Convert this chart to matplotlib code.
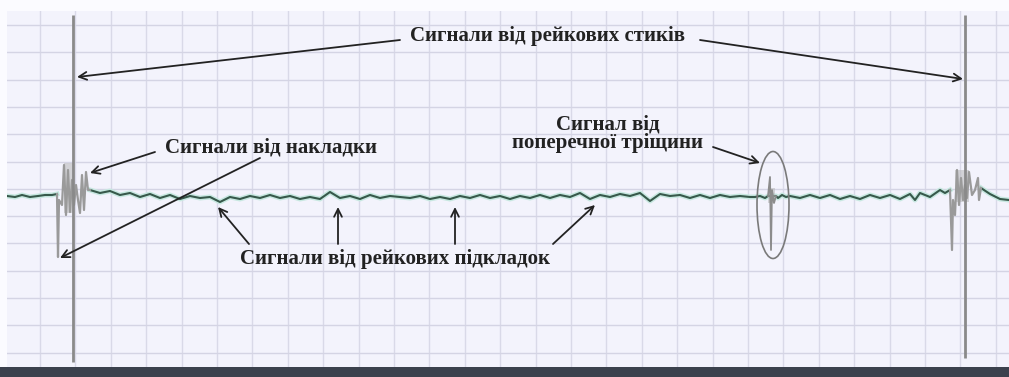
import matplotlib
matplotlib.use("Agg")
import matplotlib.pyplot as plt
from matplotlib.patches import Ellipse, Rectangle

# ---- data (x = position along track, y = signal level in image rows) ----
base_left_x = [7, 15, 22, 30, 38, 45, 52, 57]
base_left_y = [196, 197, 195, 197, 196, 195, 195, 194]

trans_left_x = [57, 58, 59, 62, 64, 66, 68, 70, 72, 74, 76, 78, 80, 82, 84, 86, 88, 90]
trans_left_y = [194, 257, 200, 205, 165, 215, 170, 212, 180, 205, 185, 200, 213, 175, 210, 172, 190, 190]

wave_x = [90, 100, 110, 120, 130, 140, 150, 160, 170, 180, 190, 200, 210, 220, 230, 240,
          250, 260, 270, 280, 290, 300, 310, 320, 330, 340, 350, 360, 370, 380, 390, 400,
          410, 420, 430, 440, 450, 460, 470, 480, 490, 500, 510, 520, 530, 540, 550, 560,
          570, 580, 590, 600, 610, 620, 630, 640, 650, 660, 670, 680, 690, 700, 710, 720,
          730, 740, 750, 755, 760, 765, 768, 776, 778, 782, 786, 790, 800, 810, 820, 830,
          840, 850, 860, 870, 880, 890, 900, 910, 915, 920, 930, 940, 945, 950]
wave_y = [190, 193, 191, 195, 193, 197, 194, 198, 195, 199, 196, 198, 197, 202, 197, 199,
          196, 198, 195, 198, 196, 199, 197, 199, 192, 198, 196, 199, 195, 198, 196, 197,
          198, 196, 199, 197, 199, 196, 198, 195, 198, 196, 199, 196, 198, 195, 198, 195,
          197, 193, 199, 195, 197, 194, 196, 193, 201, 194, 196, 195, 198, 195, 198, 195,
          197, 196, 197, 197, 196, 198, 196, 196, 198, 195, 197, 196, 198, 195, 198, 195,
          199, 196, 199, 195, 198, 195, 199, 194, 200, 193, 197, 190, 193, 190]

crack_x = [768, 770, 771, 772, 774, 776]
crack_y = [196, 177, 250, 190, 203, 196]

trans_right_x = [950, 952, 953, 955, 957, 959, 961, 963, 965, 967, 969, 972, 975, 978, 979, 981]
trans_right_y = [190, 250, 200, 215, 170, 205, 178, 200, 185, 198, 172, 195, 190, 178, 200, 188]

base_right_x = [981, 990, 1000, 1009]
base_right_y = [188, 194, 199, 200]

joint_x = [73, 965]
joint_top = [15, 15]
joint_bottom = [362, 358]

labels = {
    "joints": "Сигнали від рейкових стиків",
    "lining": "Сигнали від накладки",
    "pads": "Сигнали від рейкових підкладок",
    "crack": "Сигнал від\nпоперечної тріщини",
}

# ---- figure ----
W, H = 1009, 377
fig = plt.figure(figsize=(W / 100, H / 100), dpi=100)
fig.patch.set_facecolor("#fbfbff")
ax = fig.add_axes([7 / W, 10 / H, (W - 7) / W, (367 - 11) / H])
ax.set_facecolor("#f3f3fc")
ax.set_xlim(7, 1009)
ax.set_ylim(367, 11)
for s in ax.spines.values():
    s.set_visible(False)
ax.set_xticks([])
ax.set_yticks([])

# grid
gx = [40 + 35.4 * i for i in range(28)]
gy = [25 + 27.3 * i for i in range(13)]
for v in gx:
    ax.axvline(v, color="#d9d9e8", lw=1.0, zorder=1)
for h in gy:
    ax.axhline(h, color="#d4d4e4", lw=1.0, zorder=1)

# bottom dark bar
fig.patches.append(Rectangle((0, 0), 1, 10 / H, transform=fig.transFigure,
                             facecolor="#3b414d", edgecolor="none"))

# traces
halo = dict(color="#c8e8e1", lw=3.6, zorder=2, solid_joinstyle="round")
dark = dict(color="#37594b", lw=1.5, zorder=3, solid_joinstyle="round")
for xs, ys in [(base_left_x, base_left_y), (wave_x, wave_y), (base_right_x, base_right_y)]:
    ax.plot(xs, ys, **halo)
    ax.plot(xs, ys, **dark)

grey = dict(color="#9a9a9a", lw=1.6, zorder=4)
ax.plot(trans_left_x, trans_left_y, **grey)
ax.plot(trans_right_x, trans_right_y, **grey)
ax.plot(crack_x, crack_y, color="#8c8c8c", lw=1.3, zorder=4)
ax.vlines(joint_x, joint_top, joint_bottom, color="#8a8a8a", lw=2.0, zorder=5)

# light grey blocks of the transients
ax.add_patch(Rectangle((64, 163), 9, 50, facecolor="#b8b8b8", alpha=0.55, edgecolor="none", zorder=3))
ax.add_patch(Rectangle((955, 170), 14, 32, facecolor="#b8b8b8", alpha=0.55, edgecolor="none", zorder=3))
ax.add_patch(Rectangle((768, 188), 7, 15, facecolor="#b8b8b8", alpha=0.55, edgecolor="none", zorder=3))

# ellipse around the crack signal
ax.add_patch(Ellipse((773, 205), 32, 107, fill=False, edgecolor="#7a7a7a", lw=1.2, zorder=6))

# annotations
tkw = dict(fontfamily="Liberation Serif", fontweight="bold", color="#222222",
           fontsize=15, zorder=8)
ax.text(548, 36, labels["joints"], ha="center", va="center", **tkw)
ax.text(271, 148, labels["lining"], ha="center", va="center", **tkw)
ax.text(395, 259, labels["pads"], ha="center", va="center", **tkw)
ax.text(608, 134, labels["crack"], ha="center", va="center", linespacing=0.9, **tkw)

ap = dict(arrowstyle="->", color="#222222", lw=1.3, mutation_scale=14, shrinkA=0, shrinkB=0)
arrows = [
    ((400, 40), (77, 77)),
    ((700, 40), (963, 79)),
    ((155, 152), (90, 173)),
    ((260, 158), (60, 258)),
    ((249, 244), (218, 207)),
    ((338, 244), (338, 207)),
    ((455, 244), (455, 207)),
    ((553, 244), (595, 205)),
    ((713, 147), (760, 163)),
]
for start, end in arrows:
    ax.annotate("", xy=end, xytext=start, arrowprops=ap, zorder=7)

fig.savefig("out.png", dpi=100, facecolor=fig.get_facecolor())
